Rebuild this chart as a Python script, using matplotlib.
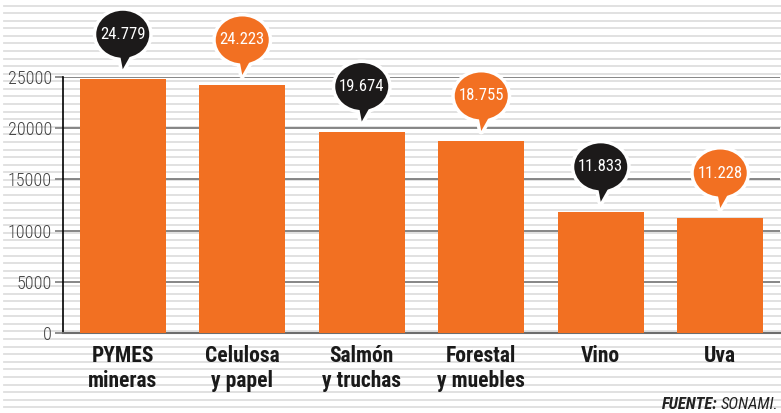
import matplotlib
matplotlib.use('Agg')
import matplotlib.pyplot as plt
import matplotlib.transforms as mtransforms
from matplotlib.patches import Ellipse, Polygon
from matplotlib import font_manager

# data
categorias = ['PYMES\nmineras', 'Celulosa\ny papel', 'Salmón\ny truchas',
              'Forestal\ny muebles', 'Vino', 'Uva']
valores = [24779, 24223, 19674, 18755, 11833, 11228]
yticks = [0, 5000, 10000, 15000, 20000, 25000]

naranja = '#f27022'
negro = '#1c1a1a'
nombres = {f.name for f in font_manager.fontManager.ttflist}
fam = [f for f in ['Roboto Condensed', 'Liberation Sans Narrow', 'Roboto']
       if f in nombres] + ['DejaVu Sans']

W, H = 781, 413
fig = plt.figure(figsize=(W / 100, H / 100), dpi=100)
fig.patch.set_facecolor('white')

# striped background
bg = fig.add_axes([0, 0, 1, 1], zorder=-1)
bg.set_xlim(0, W)
bg.set_ylim(H, 0)
bg.axis('off')
for i in range(54):
    bg.axhline(5.5 + i * 7.58, xmin=4 / W, xmax=1, color='#dedede', lw=1.3)

ax = fig.add_axes([63 / W, 1 - 333 / H, 717 / W, 256 / H])
ax.patch.set_alpha(0)
x = list(range(len(valores)))
ax.bar(x, valores, width=0.72, color=naranja, zorder=3)
ax.set_xlim(-0.5, 5.5)
ax.set_ylim(0, 25000)

ax.set_yticks(yticks)
ax.set_yticklabels([str(t) for t in yticks], fontsize=13, color='#404040', family=fam,
                   fontweight='light')
ax.tick_params(axis='y', length=6, width=1.2, color='#7d7d7d', pad=2)
ax.grid(axis='y', color='#7d7d7d', lw=1.3, zorder=1)
ax.set_axisbelow(True)
ax.set_xticks(x)
ax.set_xticklabels(categorias, fontsize=15.5, fontweight='bold', color='#1a1a1a',
                   family=fam, linespacing=1.2)
ax.tick_params(axis='x', length=0, pad=8.5)
for s in ['top', 'right']:
    ax.spines[s].set_visible(False)
ax.spines['left'].set_color('black')
ax.spines['left'].set_linewidth(1.2)
ax.spines['bottom'].set_color('#6d6d6d')
ax.spines['bottom'].set_linewidth(1.5)

# speech bubbles (pixel units relative to top of bar)
for i, v in enumerate(valores):
    col = negro if i % 2 == 0 else naranja
    tr = mtransforms.Affine2D() + mtransforms.ScaledTranslation(i, v, ax.transData)
    cola = [(-3, 26), (9, 26), (0, 10)]
    for lw, ec, z in [(5, 'white', 5), (0, col, 6)]:
        e = Ellipse((0, 45), 53, 47, transform=tr, facecolor=col if lw == 0 else 'white',
                    edgecolor=ec, lw=lw, clip_on=False, zorder=z)
        p = Polygon(cola, closed=True, transform=tr, facecolor=col if lw == 0 else 'white',
                    edgecolor=ec, lw=lw, clip_on=False, zorder=z, joinstyle='round')
        ax.add_patch(p)
        ax.add_patch(e)
    etiqueta = f'{v:,}'.replace(',', '.')
    ax.annotate(etiqueta, xy=(i, v), xytext=(0, 45 * 0.72), textcoords='offset points',
                ha='center', va='center', color='white', fontsize=12, fontweight='normal',
                family=fam, zorder=7, annotation_clip=False)

# source
t2 = fig.text(778 / W, 1 - 409 / H, 'SONAMI.', ha='right', va='baseline', fontsize=12,
              style='italic', color='#222222', family=fam)
fig.canvas.draw()
bb = t2.get_window_extent()
fig.text(bb.x0 / W - 3 / W, 1 - 409 / H, 'FUENTE:', ha='right', va='baseline', fontsize=12,
         style='italic', fontweight='bold', color='#222222', family=fam)

fig.savefig('out.png', dpi=100, facecolor='white')
